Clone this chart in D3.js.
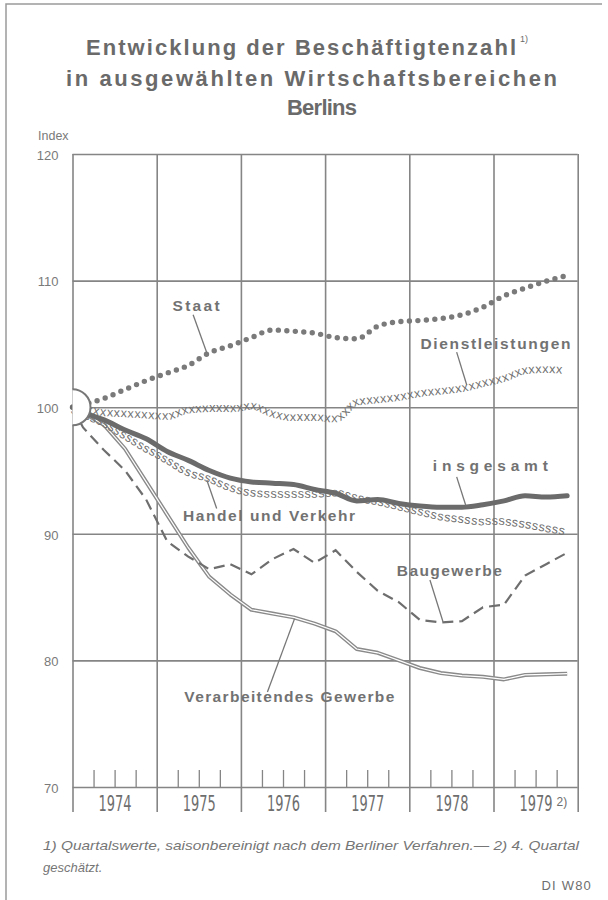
<!DOCTYPE html>
<html lang="de">
<head>
  <meta charset="UTF-8">
  <title>Entwicklung der Beschäftigtenzahl Berlins</title>
  <script src="https://d3js.org/d3.v7.min.js"></script>
  <style>
    body { margin: 0; background: #fff; }
    svg { display: block; }
    .grid line, .grid path { stroke: #858585; stroke-width: 1.6px; }
    .ylab text { font-family: "Liberation Sans", sans-serif; font-size: 13px; fill: #7a7a7a; }
    .years text { font-family: "Liberation Sans Narrow", "DejaVu Sans Condensed", sans-serif; font-stretch: condensed; font-size: 21px; fill: #6e6e6e; }
    .lbl { font-family: "Liberation Sans", Arial, sans-serif; font-weight: bold; font-size: 15.5px; fill: #727272; }
    .glyph { font-family: "Liberation Sans", sans-serif; font-size: 12.5px; fill: #707070; }
  </style>
</head>
<body>
  <svg width="608" height="900"></svg>

  <script>
    // quarterly index values, 1974 Q1 .. 1979 Q4 (base = 100)
    const years = ["1974", "1975", "1976", "1977", "1978", "1979"];
    const yTicks = [70, 80, 90, 100, 110, 120];

    const staat = [100.2, 100.7, 101.4, 102.1, 102.7, 103.3, 104.3, 104.85, 105.5, 106.1, 106.0, 105.85,
                   105.5, 105.4, 106.4, 106.75, 106.85, 107.0, 107.3, 107.9, 108.8, 109.4, 109.95, 110.4];
    const dienst = [99.9, 99.6, 99.5, 99.4, 99.3, 99.8, 99.9, 99.9, 100.1, 99.5, 99.2, 99.2,
                    99.1, 100.4, 100.6, 100.8, 101.1, 101.3, 101.5, 101.9, 102.3, 102.9, 103.0, 102.9];
    const insgesamt = [99.6, 99.0, 98.2, 97.5, 96.5, 95.8, 95.0, 94.4, 94.1, 94.0, 93.9, 93.5,
                       93.2, 92.6, 92.7, 92.4, 92.2, 92.1, 92.1, 92.3, 92.6, 93.0, 92.9, 93.0];
    const handel = [99.6, 98.9, 97.9, 96.9, 96.0, 95.0, 94.5, 93.8, 93.4, 93.3, 93.3, 93.3,
                    93.4, 93.0, 92.7, 92.3, 91.9, 91.5, 91.3, 91.1, 91.1, 90.9, 90.6, 90.3];
    const bau = [98.4, 96.6, 95.0, 92.7, 89.4, 88.2, 87.2, 87.6, 86.8, 88.0, 88.8, 87.7,
                 88.7, 87.0, 85.5, 84.6, 83.2, 83.0, 83.1, 84.2, 84.4, 86.7, 87.6, 88.5];
    const verarb = [99.6, 98.6, 96.7, 94.1, 91.5, 88.9, 86.6, 85.2, 84.0, 83.7, 83.4, 82.9,
                    82.3, 80.9, 80.6, 80.0, 79.4, 79.0, 78.8, 78.7, 78.5, 78.85, 78.9, 78.95];

    const svg = d3.select("svg");

    // quarters on x (0 = start of 1974), index on y
    const x = d3.scaleLinear().domain([0, 24]).range([72.5, 577.7]);
    const y = d3.scaleLinear().domain([70, 120]).range([787, 154]);

    // every series starts from the base 100 at the left edge
    const toPts = arr => [[0, 100]].concat(arr.map((v, i) => [i + 0.5, v]));

    // outer frame (left and top)
    svg.append("path")
      .attr("d", "M6,900 V4 H602")
      .attr("fill", "none").attr("stroke", "#9a9a9a").attr("stroke-width", 1.5);

    // title
    const titleLines = [
      { t: "Entwicklung der Beschäftigtenzahl", x: 86, y: 55, w: 430 },
      { t: "in ausgewählten Wirtschaftsbereichen", x: 66, y: 86, w: 491 },
      { t: "Berlins", x: 287, y: 115, w: 70 }
    ];
    svg.selectAll(".title").data(titleLines).enter().append("text")
      .attr("class", "title")
      .attr("x", d => d.x).attr("y", d => d.y)
      .attr("textLength", d => d.w).attr("lengthAdjust", "spacing")
      .style("font-family", "'Liberation Sans', Arial, sans-serif")
      .style("font-weight", "bold").style("font-size", "22px")
      .attr("fill", "#6a6a6a")
      .text(d => d.t);
    svg.append("text").attr("x", 520).attr("y", 42)
      .style("font-family", "'Liberation Sans', sans-serif").style("font-size", "9px")
      .attr("fill", "#6a6a6a").text("1)");

    // "Index" caption
    svg.append("text").attr("x", 38).attr("y", 140)
      .style("font-family", "'Liberation Sans', sans-serif").style("font-size", "12.5px")
      .attr("fill", "#7a7a7a").text("Index");

    // horizontal grid + y labels
    const gy = svg.append("g").attr("class", "grid ylab")
      .attr("transform", `translate(${x(0)},0)`)
      .call(d3.axisLeft(y).tickValues(yTicks).tickSize(-(x(24) - x(0))).tickPadding(14));
    gy.select(".domain").remove();
    gy.selectAll("text").attr("dy", "0.4em");

    // vertical year lines (running below the 70 line)
    const gx = svg.append("g").attr("class", "grid")
      .attr("transform", `translate(0,${y(120)})`)
      .call(d3.axisBottom(x).tickValues(d3.range(0, 25, 4)).tickSize(812 - y(120)).tickFormat(""));
    gx.select(".domain").remove();

    // quarter ticks on the base line
    const gq = svg.append("g").attr("class", "grid")
      .attr("transform", `translate(0,${y(70)})`)
      .call(d3.axisTop(x).tickValues(d3.range(1, 24).filter(q => q % 4 !== 0)).tickSize(17).tickFormat(""));
    gq.select(".domain").remove();
    gq.selectAll("line").style("stroke-width", "1.3px");

    // year labels, squeezed to the narrow print width
    const gyr = svg.append("g").attr("class", "years")
      .attr("transform", `translate(0,${y(70)})`)
      .call(d3.axisBottom(x).tickValues(d3.range(2, 24, 4)).tickSize(0).tickPadding(9)
        .tickFormat((d, i) => years[i]));
    gyr.select(".domain").remove();
    gyr.selectAll("text").each(function () {
      const w = this.getComputedTextLength();
      d3.select(this).attr("transform", `scale(${33 / w},1)`);
    });
    svg.append("text")
      .attr("x", x(22) + 21).attr("y", y(70) + 19)
      .style("font-family", "'Liberation Sans', sans-serif").style("font-size", "12px")
      .attr("fill", "#6e6e6e").text("2)");

    const lineLin = d3.line().x(d => x(d[0])).y(d => y(d[1]));
    const lineSm = d3.line().x(d => x(d[0])).y(d => y(d[1])).curve(d3.curveMonotoneX);

    const plot = svg.append("g");

    // Verarbeitendes Gewerbe: double line
    plot.append("path").attr("d", lineLin(toPts(verarb)))
      .attr("fill", "none").attr("stroke", "#8a8a8a").attr("stroke-width", 4)
      .attr("stroke-linejoin", "round");
    plot.append("path").attr("d", lineLin(toPts(verarb)))
      .attr("fill", "none").attr("stroke", "#fff").attr("stroke-width", 1.2)
      .attr("stroke-linejoin", "round");

    // Baugewerbe: dashed
    plot.append("path").attr("d", lineLin(toPts(bau)))
      .attr("fill", "none").attr("stroke", "#6e6e6e").attr("stroke-width", 2.2)
      .attr("stroke-dasharray", "11,6");

    // Staat: dotted
    plot.append("path").attr("d", lineSm(toPts(staat)))
      .attr("fill", "none").attr("stroke", "#7a7a7a").attr("stroke-width", 5.4)
      .attr("stroke-linecap", "round").attr("stroke-dasharray", "0,8.5");

    // Dienstleistungen (x) and Handel und Verkehr (s): a letter every few pixels along the line
    function glyphLine(series, ch, step, dy) {
      const p = plot.append("path").attr("d", lineSm(toPts(series)))
        .attr("fill", "none").attr("stroke", "none");
      const node = p.node();
      const len = node.getTotalLength();
      const g = plot.append("g");
      for (let L = step / 2; L < len - 2; L += step) {
        const a = node.getPointAtLength(Math.max(0, L - 1));
        const b = node.getPointAtLength(Math.min(len, L + 1));
        const c = node.getPointAtLength(L);
        const ang = Math.atan2(b.y - a.y, b.x - a.x) * 180 / Math.PI;
        g.append("text").attr("class", "glyph")
          .attr("text-anchor", "middle").attr("dy", dy)
          .attr("transform", `translate(${c.x},${c.y}) rotate(${ang})`)
          .text(ch);
      }
    }
    glyphLine(dienst, "x", 6.9, "0.3em");
    glyphLine(handel, "s", 6.8, "0.45em");

    // insgesamt: thick line
    plot.append("path").attr("d", lineSm(toPts(insgesamt)))
      .attr("fill", "none").attr("stroke", "#6b6b6b").attr("stroke-width", 5)
      .attr("stroke-linecap", "round").attr("stroke-linejoin", "round");

    // base circle at 100 (right half, white inside)
    const r = 18;
    const semi = d3.path();
    semi.moveTo(0, -r);
    semi.arc(0, 0, r, -Math.PI / 2, Math.PI / 2);
    svg.append("path")
      .attr("transform", `translate(${x(0)},${y(100)})`)
      .attr("d", semi.toString() + "Z")
      .attr("fill", "#fff").attr("stroke", "none");
    svg.append("path")
      .attr("transform", `translate(${x(0)},${y(100)})`)
      .attr("d", semi.toString())
      .attr("fill", "none").attr("stroke", "#777").attr("stroke-width", 2);

    // series labels with leader lines (positions in quarters / index units)
    const labels = [
      { t: "Staat", lx: 5.87, ly: 107.6, w: 47, a: [5.73, 107.3], b: [6.38, 104.3] },
      { t: "Dienstleistungen", lx: 20.09, ly: 104.6, w: 150, a: [18.25, 104.35], b: [18.73, 101.75] },
      { t: "insgesamt", lx: 19.85, ly: 95.0, w: 115, a: [18.25, 94.5], b: [18.68, 92.25] },
      { t: "Handel und Verkehr", lx: 9.34, ly: 91.05, w: 172, a: [6.38, 94.25], b: [6.85, 92.0] },
      { t: "Baugewerbe", lx: 17.9, ly: 86.7, w: 105, a: [16.98, 86.35], b: [17.6, 83.05] },
      { t: "Verarbeitendes Gewerbe", lx: 10.3, ly: 76.7, w: 210, a: [9.26, 77.5], b: [10.55, 83.3] }
    ];
    svg.selectAll(".leader").data(labels).enter().append("line")
      .attr("class", "leader")
      .attr("x1", d => x(d.a[0])).attr("y1", d => y(d.a[1]))
      .attr("x2", d => x(d.b[0])).attr("y2", d => y(d.b[1]))
      .attr("stroke", "#777").attr("stroke-width", 1.3);
    svg.selectAll(".lbl").data(labels).enter().append("text")
      .attr("class", "lbl")
      .attr("x", d => x(d.lx)).attr("y", d => y(d.ly))
      .attr("text-anchor", "middle")
      .attr("textLength", d => d.w).attr("lengthAdjust", "spacing")
      .text(d => d.t);

    // footnotes
    const foot = svg.append("g")
      .style("font-family", "'Liberation Sans', sans-serif").style("font-style", "italic")
      .style("font-size", "13px").attr("fill", "#767676");
    foot.append("text").attr("x", 43).attr("y", 850)
      .attr("textLength", 536).attr("lengthAdjust", "spacingAndGlyphs")
      .text("1) Quartalswerte, saisonbereinigt nach dem Berliner Verfahren.\u2014 2) 4. Quartal");
    foot.append("text").attr("x", 43).attr("y", 872).text("geschätzt.");

    svg.append("text").attr("x", 592).attr("y", 890).attr("text-anchor", "end")
      .style("font-family", "'Liberation Sans', sans-serif").style("font-size", "13px")
      .style("letter-spacing", "1.2px").attr("fill", "#6e6e6e").text("DI W80");
  </script>
</body>
</html>
